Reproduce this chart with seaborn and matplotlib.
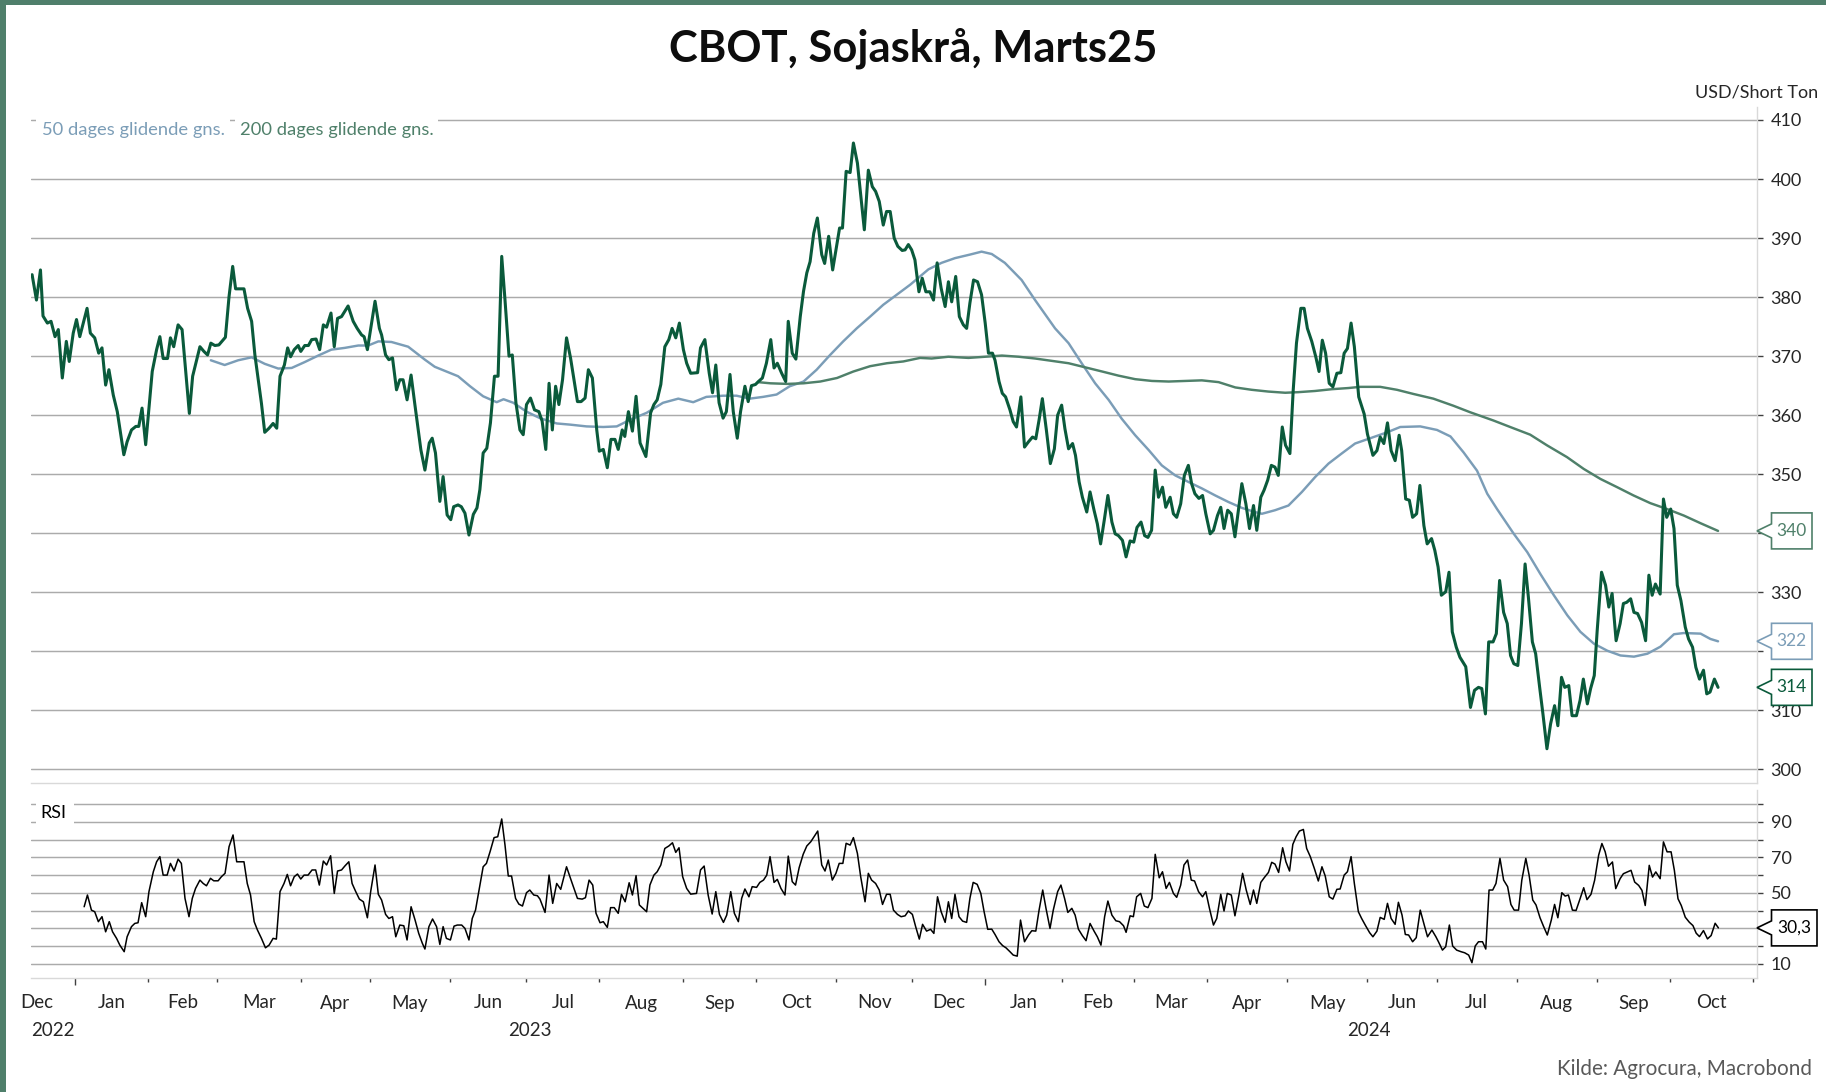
import numpy as np
import pandas as pd
import matplotlib
matplotlib.use("Agg")
import matplotlib.pyplot as plt
import seaborn as sns
from matplotlib.patches import Polygon, Rectangle
from matplotlib.transforms import blended_transform_factory

# ---------------- data ----------------
# x = trading day number counted from 2023-01-03 (CBOT trading calendar)
price_day = [-12.3,-11.1,-10.0,-9.3,-8.1,-7.1,-6.0,-5.1,-4.0,-2.9,-2.1,-1.0,-0.1,0.8,2.8,3.7,4.9,6.0,6.9,7.9,8.8,10.0,11.1,12.9,13.8,15.0,16.2,17.0,17.9,18.9,20.7,21.9,22.8,23.7,24.9,25.7,26.6,27.8,28.9,30.9,31.8,33.8,34.9,35.9,36.8,37.9,39.0,40.8,41.8,42.8,43.6,45.9,46.9,48.0,48.9,50.7,51.6,52.8,53.9,54.9,55.8,57.0,57.9,58.7,59.7,60.8,61.5,62.6,63.6,64.5,65.7,66.7,67.7,68.6,69.8,70.7,71.6,72.7,74.5,75.9,77.0,78.2,78.9,79.8,81.9,83.1,83.7,84.8,85.7,86.7,87.8,88.7,89.6,90.7,91.8,92.8,94.5,95.6,96.8,97.6,98.5,99.7,100.6,101.7,102.7,103.5,104.7,105.6,106.6,107.7,
             108.9,109.9,110.7,111.6,112.6,113.6,114.7,115.7,116.7,117.6,118.7,119.6,120.6,121.7,122.6,123.5,124.6,125.7,126.9,127.8,128.8,129.7,130.6,131.5,132.4,133.4,134.5,135.6,137.5,138.5,139.6,140.5,141.6,142.8,143.5,144.6,145.7,146.7,147.8,148.7,149.8,150.5,151.5,152.6,153.6,154.7,156.3,157.6,158.5,159.4,160.4,161.5,162.6,163.5,164.5,165.5,166.6,167.5,168.6,170.5,171.3,172.5,173.7,174.6,175.5,176.4,177.5,178.4,179.4,180.3,181.4,182.3,183.5,184.4,185.3,186.4,187.2,188.3,189.4,190.6,191.5,192.4,193.6,194.7,195.4,196.5,197.5,198.7,199.6,200.5,201.4,202.4,203.4,204.6,205.4,206.5,207.6,208.5,209.5,210.3,211.3,212.4,213.3,214.4,216.3,217.4,218.5,219.4,220.4,221.5,222.4,223.4,224.5,225.5,226.7,227.5,228.4,229.3,
             230.2,231.3,232.2,233.2,234.3,235.3,236.3,237.4,238.5,239.4,240.3,241.4,242.4,243.5,244.4,245.3,246.3,247.4,248.5,249.5,250.4,251.5,252.2,253.3,254.2,255.1,256.3,257.2,258.1,259.3,260.3,261.4,262.5,263.4,264.3,265.2,266.3,267.4,268.5,269.4,270.5,271.4,272.4,273.5,274.3,275.3,276.2,277.4,278.3,279.4,280.3,281.2,282.2,283.2,284.3,285.2,286.1,287.2,288.2,289.3,290.3,291.2,292.3,293.3,294.2,295.2,296.2,297.1,298.2,299.1,300.3,301.2,302.1,303.2,304.2,305.3,306.2,307.1,308.2,309.2,310.1,311.3,312.2,313.3,314.2,315.1,316.1,317.1,318.1,319.1,320.0,321.1,322.1,323.2,324.1,325.2,326.1,327.1,328.1,329.1,330.0,331.1,332.0,333.2,334.1,335.0,336.2,337.1,338.0,339.2,340.3,341.2,342.1,343.0,344.0,345.0,346.1,347.2,348.1,349.0,350.0,350.9,352.1,
             353.6,354.5,356.0,357.1,358.0,359.0,360.0,361.0,362.1,363.2,363.9,365.0,366.0,366.9,368.0,368.9,370.0,370.9,372.1,373.0,373.9,374.8,376.0,376.9,377.8,378.9,379.9,381.5,382.8,383.9,385.0,385.9,386.9,387.8,389.0,389.9,390.8,391.9,392.9,393.8,394.7,395.8,396.8,397.8,398.7,399.8,400.7,401.8,402.7,403.8,404.8,405.9,406.8,407.8,408.7,409.8,410.7,411.9,412.9,413.8,414.9,415.8,416.8,417.6,418.8,419.9,420.8,421.7,422.8,423.9,424.8,425.7,426.8,427.7,428.7,429.8,430.9,431.8,432.7,433.6,434.9,435.8,436.7,437.8,438.7,439.6,440.6,441.8,442.7,443.8,444.7,445.7,446.8,447.7,448.6,449.8,450.8]
price = [383.8,379.5,384.6,376.8,375.6,375.9,373.3,374.5,366.3,372.5,369.1,373.9,376.2,373.3,378.1,373.9,373.1,370.5,371.4,365.1,367.7,363.4,360.6,353.3,355.5,357.5,358.1,358.1,361.2,355.0,367.4,371.1,373.3,369.6,369.6,373.1,371.6,375.3,374.5,360.3,366.6,371.6,370.8,370.2,372.2,371.8,371.9,373.2,380.1,385.2,381.4,381.4,378.1,375.9,370.2,362.0,357.1,357.8,358.6,357.8,366.6,368.5,371.4,369.9,371.1,371.8,370.8,371.8,371.8,372.8,372.9,371.1,375.3,374.9,377.3,371.6,376.4,376.7,378.5,375.9,374.7,373.6,373.3,371.1,379.3,374.7,373.6,370.2,369.4,369.7,364.3,366.0,366.0,362.6,366.8,362.0,354.1,350.7,355.3,356.1,353.6,345.4,349.6,343.1,342.3,344.5,344.8,344.5,343.4,339.7,
         343.2,344.3,347.4,353.6,354.4,358.7,366.6,366.6,386.9,379.5,370.0,370.2,362.1,357.5,356.7,361.8,362.9,360.9,360.6,359.0,354.2,365.4,357.5,364.9,361.8,366.0,373.1,369.7,362.3,362.3,362.9,367.7,366.3,357.5,353.9,354.2,351.1,355.9,355.9,354.2,357.5,356.4,360.6,357.3,363.2,355.3,353.0,360.4,361.8,362.6,365.2,371.6,372.8,374.7,373.1,375.6,371.1,368.8,367.1,367.2,371.4,372.8,367.1,363.8,368.5,362.1,359.5,360.6,366.9,360.6,356.1,360.6,364.9,362.3,365.0,365.2,365.7,366.3,368.8,372.8,368.0,368.8,367.1,365.7,375.9,370.5,369.5,376.7,381.0,384.1,386.0,390.8,393.4,387.2,385.7,390.3,384.6,388.0,391.7,391.7,401.3,401.1,406.1,402.7,391.4,401.5,398.7,397.9,396.2,392.2,394.5,394.5,390.0,388.6,387.9,388.0,388.9,388.0,
         386.3,380.9,383.2,380.9,380.9,379.5,385.8,381.5,378.4,382.6,379.2,383.5,376.7,375.3,374.7,379.0,382.9,382.6,380.4,375.6,370.5,370.5,369.3,365.7,363.7,363.1,360.9,358.9,358.0,363.1,354.6,355.5,356.3,356.0,359.2,362.8,357.5,351.8,354.3,360.0,361.7,357.7,354.3,355.2,353.2,348.7,346.1,343.6,347.0,343.9,341.6,338.2,342.2,346.4,341.9,339.9,339.6,338.8,336.0,338.7,338.5,341.0,341.9,339.6,339.3,340.5,350.7,346.1,347.8,344.4,346.1,343.3,342.7,345.0,349.8,351.5,348.4,346.7,345.9,346.4,343.3,339.9,340.5,343.0,344.4,340.8,343.9,343.3,339.4,344.2,348.4,345.0,340.8,344.7,340.5,346.1,347.3,349.0,351.5,351.2,349.8,358.0,354.9,353.5,364.2,372.2,378.1,378.1,374.7,372.5,369.9,367.4,372.7,370.5,365.4,364.8,367.1,367.2,370.5,371.3,375.6,371.6,363.1,
         360.2,356.8,353.2,354.0,356.3,355.2,358.7,354.0,352.3,356.6,354.0,345.8,345.6,342.7,343.3,348.1,341.3,338.2,339.1,337.1,334.3,329.5,330.1,333.4,323.3,320.7,319.0,317.4,310.5,313.4,313.9,313.7,309.4,321.6,321.6,323.0,332.0,326.6,324.7,319.3,317.9,317.6,324.7,334.8,329.2,321.6,319.6,313.9,309.4,303.5,307.7,310.8,307.4,315.6,313.9,314.2,309.1,309.1,311.7,315.3,311.1,313.7,315.9,323.5,333.4,331.2,327.5,329.8,321.8,324.7,328.1,328.3,328.9,326.6,326.4,324.9,321.8,332.9,329.5,331.4,329.7,345.8,342.7,344.1,340.8,331.2,328.6,324.1,322.1,320.7,317.3,315.3,316.8,312.8,313.1,315.3,313.9]

ma50_day = [36.8,40.6,44.3,48.0,51.6,55.3,59.0,62.6,66.3,69.9,73.6,77.3,80.0,82.8,86.4,91.0,95.6,98.3,104.7,108.0,111.6,115.3,117.2,119.9,123.5,127.2,131.8,135.5,140.0,144.6,148.3,151.9,156.5,161.0,165.2,169.3,172.9,177.5,181.2,184.8,188.5,192.2,195.8,199.6,203.2,206.9,210.5,214.2,217.9,221.5,225.2,228.9,233.9,237.5,241.2,245.3,248.5,251.3,254.9,259.5,263.2,268.7,272.4,276.0,279.7,283.4,287.0,290.7,294.4,298.0,301.7,305.3,309.0,312.7,316.3,320.0,323.6,325.5,329.1,332.8,336.5,340.1,343.8,347.4,351.1,356.2,359.9,363.5,369.0,373.6,377.3,380.9,384.6,387.4,390.1,394.7,398.4,402.0,405.7,409.4,413.0,416.7,420.4,424.0,427.7,431.4,435.0,438.7,441.4,446.0,448.7,450.8]
ma50 = [369.3,368.5,369.3,369.8,368.7,367.9,368.0,369.0,370.1,371.1,371.4,371.8,371.8,372.5,372.4,371.6,369.4,368.2,366.6,364.9,363.2,362.2,362.7,362.1,360.6,359.5,358.6,358.4,358.1,358.0,358.1,359.2,360.4,362.1,362.8,362.2,363.1,363.3,363.3,362.8,363.1,363.5,364.9,365.7,367.7,370.2,372.5,374.7,376.7,378.7,380.4,382.1,384.7,385.8,386.6,387.2,387.7,387.3,385.8,382.9,379.5,374.7,372.2,368.8,365.4,362.6,359.4,356.6,354.1,351.5,349.8,348.7,347.6,346.4,345.3,344.3,343.6,343.3,343.9,344.7,347.0,349.5,351.8,353.5,355.2,356.3,357.1,358.0,358.1,357.5,356.4,353.7,350.6,346.7,344.1,339.9,336.8,333.1,329.5,326.1,323.3,321.3,320.1,319.3,319.1,319.6,320.8,322.9,323.1,323.0,322.1,321.7]

ma200_day = [187.1,190.5,195.1,199.6,204.2,208.8,213.3,217.9,222.5,227.0,231.6,234.8,239.4,244.9,249.5,254.1,258.7,263.2,267.8,272.4,277.0,281.6,286.1,290.7,295.3,299.9,304.5,309.0,313.6,318.2,322.7,327.3,331.9,335.5,340.1,344.7,349.3,352.5,358.0,362.6,367.1,372.6,378.1,382.7,389.1,393.7,399.2,403.8,409.3,413.9,418.5,423.1,427.6,432.2,436.8,441.4,446.0,450.8]
ma200 = [365.6,365.4,365.3,365.4,365.7,366.3,367.4,368.3,368.8,369.1,369.7,369.6,369.9,369.7,369.9,370.1,369.9,369.6,369.2,368.8,368.1,367.4,366.7,366.1,365.8,365.7,365.8,365.9,365.6,364.7,364.3,364.0,363.8,363.9,364.1,364.4,364.6,364.8,364.8,364.3,363.6,362.8,361.6,360.5,359.1,358.0,356.7,354.9,352.9,350.9,349.2,347.8,346.4,345.1,344.1,343.0,341.7,340.4]

rsi_day = [2.0,2.9,4.0,4.9,5.9,6.9,7.9,8.9,9.8,10.9,11.8,13.0,13.8,15.0,15.9,16.8,17.8,18.9,19.8,21.0,21.9,22.8,23.7,24.8,25.7,26.7,27.8,28.7,29.7,30.8,31.7,32.6,33.8,34.7,35.6,36.7,37.6,38.8,39.7,40.7,41.8,42.9,43.9,45.9,46.8,47.7,48.7,49.6,50.7,51.8,52.8,53.9,54.8,55.8,56.9,57.8,58.7,59.7,60.6,61.5,62.4,63.5,64.6,65.6,66.6,67.7,68.6,69.7,70.7,71.6,72.7,73.6,74.7,75.6,76.6,77.6,78.7,79.8,80.7,81.9,82.8,83.7,84.8,85.7,86.7,87.6,88.7,89.8,90.7,91.8,92.9,93.9,94.9,95.6,96.7,97.7,98.8,99.7,100.6,101.5,102.6,103.6,104.5,105.7,106.6,107.7,108.6,109.5,110.4,111.6,112.5,113.5,114.6,115.6,116.7,117.6,118.5,119.4,120.5,121.4,122.4,123.5,124.4,125.5,126.5,
           127.2,128.6,129.7,130.7,131.8,132.9,134.5,135.9,137.5,138.8,139.7,140.7,141.7,142.6,143.7,144.6,145.7,146.6,147.6,148.7,149.6,150.6,151.7,152.6,153.6,154.5,156.5,157.4,158.5,159.4,160.4,161.5,162.6,163.6,164.5,165.4,166.4,167.5,168.6,170.2,171.3,172.3,173.4,174.5,175.5,176.5,177.6,178.5,179.6,180.6,181.7,182.6,183.5,184.6,185.5,186.7,187.6,188.6,189.5,190.4,191.5,192.4,193.4,194.5,195.4,196.5,197.4,198.4,199.5,200.5,201.6,202.5,203.5,204.6,205.5,206.4,207.5,208.5,209.4,210.4,211.3,212.4,213.3,214.4,215.3,216.5,217.4,218.3,219.4,220.4,221.3,222.4,223.4,224.3,225.4,226.4,227.5,228.4,229.5,230.4,231.4,232.3,233.4,234.5,235.4,236.4,237.4,238.5,239.4,240.3,241.2,242.3,243.3,244.4,245.3,246.2,247.3,248.3,249.2,250.2,251.3,252.2,253.3,254.3,255.2,256.3,257.2,258.3,259.2,260.3,261.4,262.3,263.4,264.3,265.3,266.2,267.3,268.2,
           269.4,270.3,271.3,272.2,273.3,274.2,275.1,276.2,277.2,278.3,279.4,280.3,281.3,282.3,283.2,284.3,285.4,286.4,287.5,288.2,289.3,290.2,291.1,292.2,293.2,294.2,295.3,296.2,297.3,298.2,299.2,300.1,301.2,302.1,303.2,304.1,305.1,306.1,307.0,308.1,309.2,310.1,311.1,312.2,313.1,314.2,315.1,316.0,317.1,318.1,319.2,320.2,321.2,322.3,323.2,324.1,325.2,326.2,327.3,328.2,329.1,330.1,331.2,332.1,333.1,334.0,334.9,335.8,336.9,337.8,338.8,339.9,341.0,342.0,342.9,344.0,345.0,346.1,347.0,348.1,349.0,350.0,350.9,352.0,352.9,354.0,355.1,356.0,357.1,358.0,359.1,360.0,361.0,362.1,363.0,364.0,364.9,365.8,366.9,367.9,369.0,370.1,371.0,372.2,373.3,374.0,375.1,376.0,377.0,377.9,379.0,380.2,381.2,382.3,383.2,384.1,385.0,386.1,387.0,387.9,388.9,389.8,390.9,391.9,393.0,393.9,394.8,396.0,396.9,398.0,398.9,399.9,400.8,401.9,402.9,403.9,405.0,405.9,406.8,407.9,408.8,409.7,410.8,
           411.8,412.9,413.9,414.8,415.9,416.9,418.0,418.9,419.8,420.7,421.8,422.7,423.9,424.8,425.9,426.9,427.9,429.0,429.9,430.8,431.9,432.8,433.7,434.9,435.8,436.8,437.9,438.8,439.8,440.7,441.8,442.9,443.9,444.8,445.7,446.8,447.9,448.9,450.0,450.9]
rsi = [42.2,48.8,40.3,39.4,33.8,36.6,28.1,33.8,28.1,24.4,20.6,16.9,25.3,31.0,32.8,33.2,44.5,36.6,50.7,61.9,67.5,70.4,60.0,60.0,66.6,62.3,69.0,66.6,46.9,36.6,46.9,52.5,57.2,55.3,54.0,58.2,56.8,56.8,59.1,61.0,76.0,82.6,67.5,67.5,55.3,48.8,33.8,29.1,24.4,19.1,20.6,24.4,24.0,50.7,55.3,60.4,54.0,59.1,60.6,57.8,60.0,60.0,62.9,62.9,54.4,67.9,65.7,70.9,49.7,62.3,62.9,65.1,67.5,55.3,50.7,46.5,45.0,36.0,50.7,65.7,49.2,46.0,37.9,35.6,36.6,25.3,31.9,31.5,23.5,42.2,34.7,27.2,21.6,18.4,31.0,35.3,31.0,21.0,31.0,24.4,23.5,31.3,31.9,31.9,30.0,23.5,35.6,40.3,50.7,64.7,66.6,73.2,81.1,81.6,91.6,76.9,59.5,59.5,46.9,43.7,42.6,50.1,51.6,48.8,48.4,
       46.5,39.0,60.0,44.1,55.3,52.0,64.7,56.3,46.9,46.5,47.3,57.2,54.4,38.5,33.2,33.8,30.6,41.7,41.7,38.5,49.2,45.0,55.7,48.8,59.7,43.2,39.4,54.4,60.0,61.9,65.7,75.0,76.4,78.2,72.8,75.4,59.1,52.5,49.3,49.7,62.9,65.1,48.8,38.1,50.7,37.9,33.4,37.5,50.7,38.5,33.8,46.9,52.2,47.8,53.5,53.1,55.9,57.2,60.0,70.4,55.9,57.6,52.5,48.8,70.7,56.3,54.4,64.2,71.7,76.4,78.8,81.6,84.8,65.7,62.3,68.5,57.2,61.0,66.6,66.6,77.9,76.9,81.1,72.2,59.1,45.0,61.0,57.2,55.3,51.6,43.5,49.2,49.2,40.3,37.9,36.6,37.1,39.8,37.9,31.0,24.0,32.3,28.5,29.5,27.2,47.8,39.4,33.4,45.0,35.6,49.2,36.6,34.1,33.4,46.9,55.9,54.8,49.7,39.4,29.5,29.6,26.6,22.5,20.3,19.1,16.9,15.0,14.4,34.7,22.5,26.3,28.7,28.5,40.3,51.6,41.3,30.0,40.3,
       50.7,54.4,46.9,39.0,41.3,37.5,29.6,25.9,23.1,32.8,28.5,25.3,20.6,36.6,45.4,37.5,34.3,33.8,31.5,27.8,37.1,36.6,47.8,49.7,42.6,41.7,46.9,71.7,58.5,61.9,52.5,55.9,49.7,47.5,54.4,65.7,68.5,57.2,56.7,50.7,47.8,50.7,41.3,31.9,35.6,49.2,39.8,49.7,48.8,37.1,48.8,61.0,51.6,43.5,51.6,44.1,55.9,58.7,61.5,67.2,66.2,61.5,75.4,67.5,62.3,77.3,81.6,84.8,85.7,75.0,70.4,63.8,56.7,64.7,59.5,47.8,46.5,52.0,52.2,60.0,61.9,70.4,55.3,39.4,35.6,31.5,27.6,25.3,28.5,36.2,35.1,44.1,35.6,32.3,44.7,37.5,26.6,26.3,22.5,24.8,40.3,31.9,25.3,29.1,25.3,22.5,17.8,19.7,31.9,20.1,17.8,16.9,16.3,15.0,10.7,20.1,22.5,22.5,18.4,51.6,51.6,55.3,69.4,57.2,53.5,43.5,40.3,40.3,57.2,69.4,60.0,46.0,43.2,36.0,31.0,26.3,34.7,43.5,36.0,50.1,48.2,48.8,40.3,
       40.1,46.7,52.9,46.2,49.2,57.1,71.2,77.8,73.1,65.0,67.4,52.4,58.0,60.8,61.8,62.7,56.1,54.2,51.4,42.9,65.5,58.9,61.8,58.0,78.7,73.1,73.1,62.7,46.7,42.9,36.3,33.5,31.6,27.3,25.4,28.8,24.1,26.0,32.9,30.3]

title = "CBOT, Sojaskrå, Marts25"
unit_label = "USD/Short Ton"
legend_labels = ["50 dages glidende gns.", "200 dages glidende gns."]
source = "Kilde: Agrocura, Macrobond"
price_ticks = list(range(300, 411, 10))
price_tick_hidden = [320, 340]          # covered by the value tags in the reference
rsi_ticks = list(range(10, 101, 10))
rsi_tick_labels = [10, 50, 70, 90]      # 30 is covered by the RSI value tag
cbot_holidays = ["2022-12-26", "2023-01-02", "2023-01-16", "2023-02-20", "2023-04-07",
                 "2023-05-29", "2023-06-19", "2023-07-04", "2023-09-04", "2023-11-23",
                 "2023-12-25", "2024-01-01", "2024-01-15", "2024-02-19", "2024-03-29",
                 "2024-05-27", "2024-06-19", "2024-07-04", "2024-09-02"]

# ---------------- styling ----------------
C_PRICE = "#0a5a3b"
C_MA50 = "#7b9db7"
C_MA200 = "#4f806a"
C_GRID = "#ababab"
C_FRAME = "#4f7f6b"
C_TEXT = "#262626"

sns.set_theme(style="white")
plt.rcParams["font.family"] = ["Lato", "DejaVu Sans"]

W, H = 1826, 1092
fig = plt.figure(figsize=(W / 100, H / 100), dpi=100)
fig.patch.set_facecolor("white")


def fx(x):
    return x / W


def fy(y):
    return 1 - y / H


def px_axes(l, t, r, b):
    return [l / W, 1 - b / H, (r - l) / W, (b - t) / H]


ax1 = fig.add_axes(px_axes(31, 107, 1757, 783))
ax2 = fig.add_axes(px_axes(31, 790, 1757, 978))

# trading calendar -> month boundaries
days = pd.bdate_range("2022-12-01", "2024-10-31")
days = days[~days.isin(pd.to_datetime(cbot_holidays))]
t0 = days.get_loc(pd.Timestamp("2023-01-03"))
tidx = np.arange(len(days)) - t0
cal = pd.DataFrame({"date": days, "t": tidx})
cal["ym"] = cal["date"].dt.to_period("M")
months = cal.groupby("ym")["t"].agg(["min", "max"])
month_bounds = [m - 0.5 for m in months["min"].values[1:]] + [months["max"].values[-1] + 0.5]
month_centers = ((months["min"] + months["max"]) / 2.0).values
month_names = [p.strftime("%b") for p in months.index]
cal["year"] = cal["date"].dt.year
years = cal.groupby("year")["t"].agg(["min", "max"])
year_bounds = [years.loc[y, "min"] - 0.5 for y in years.index[1:]]

XL = (-12.6, 461.5)

df_p = pd.DataFrame({"day": price_day, "v": price})
df_50 = pd.DataFrame({"day": ma50_day, "v": ma50})
df_200 = pd.DataFrame({"day": ma200_day, "v": ma200})
df_r = pd.DataFrame({"day": rsi_day, "v": rsi})

sns.lineplot(data=df_50, x="day", y="v", ax=ax1, color=C_MA50, linewidth=1.75,
             estimator=None, sort=False, legend=False, zorder=3)
sns.lineplot(data=df_200, x="day", y="v", ax=ax1, color=C_MA200, linewidth=1.75,
             estimator=None, sort=False, legend=False, zorder=3)
sns.lineplot(data=df_p, x="day", y="v", ax=ax1, color=C_PRICE, linewidth=2.2,
             estimator=None, sort=False, legend=False, zorder=4)
sns.lineplot(data=df_r, x="day", y="v", ax=ax2, color="black", linewidth=1.1,
             estimator=None, sort=False, legend=False, zorder=3)

for ax in (ax1, ax2):
    ax.set_xlim(*XL)
    ax.set_xlabel("")
    ax.set_ylabel("")
    ax.set_facecolor("white")
    ax.yaxis.tick_right()
    ax.grid(False)
    ax.yaxis.grid(True, color=C_GRID, linewidth=1.05)
    ax.set_axisbelow(True)
    for s in ("left", "top"):
        ax.spines[s].set_visible(False)
    ax.spines["right"].set_color("#d9d9d9")
    ax.spines["bottom"].set_color("#d9d9d9")
    ax.spines["right"].set_linewidth(1.0)
    ax.spines["bottom"].set_linewidth(1.0)
    ax.tick_params(axis="y", which="both", direction="out", length=4.3, width=1.0,
                   color="#404040", labelsize=13, labelcolor=C_TEXT, pad=5.5,
                   left=False, right=True)

ax1.set_ylim(297.7, 412.2)
ax1.set_yticks(price_ticks)
ax1.set_yticklabels(["" if v in price_tick_hidden else str(v) for v in price_ticks])
ax1.set_xticks([])

ax2.set_ylim(2.1, 107.9)
ax2.set_yticks(rsi_ticks)
ax2.set_yticklabels([str(v) if v in rsi_tick_labels else "" for v in rsi_ticks])
ax2.set_xticks(year_bounds)
ax2.set_xticks(month_bounds, minor=True)
ax2.set_xticklabels([])
ax2.tick_params(axis="x", which="major", direction="out", length=5.3, width=1.0, color="#404040", bottom=True)
ax2.tick_params(axis="x", which="minor", direction="out", length=3.0, width=1.0, color="#404040", bottom=True)

# month and year labels
btrans = blended_transform_factory(ax2.transData, ax2.transAxes)
ax_h = 978 - 790
for c, name in zip(month_centers, month_names):
    ax2.text(c, -(1003 - 978) / ax_h, name, transform=btrans, ha="center", va="center",
             fontsize=13.5, color=C_TEXT, clip_on=False)
for y in years.index:
    lo = max(years.loc[y, "min"] - 0.5, XL[0])
    hi = min(years.loc[y, "max"] + 0.5, XL[1])
    ax2.text((lo + hi) / 2, -(1031 - 978) / ax_h, str(y), transform=btrans, ha="center",
             va="center", fontsize=13.5, color=C_TEXT, clip_on=False)

# title, unit, source
fig.text(fx(913), fy(48), title, ha="center", va="center", fontsize=31.3, fontweight="bold", color="#0d0d0d")
fig.text(fx(1818), fy(92), unit_label, ha="right", va="center", fontsize=13, color=C_TEXT)
fig.text(fx(1812), fy(1069), source, ha="right", va="center", fontsize=14.9, color="#595959")

# legend (white box over the top grid line)
fig.add_artist(Rectangle((fx(36), fy(142)), (230 - 36) / W, 24 / H, transform=fig.transFigure,
                         facecolor="white", edgecolor="none", zorder=5))
fig.add_artist(Rectangle((fx(235), fy(142)), (438 - 235) / W, 24 / H, transform=fig.transFigure,
                         facecolor="white", edgecolor="none", zorder=5))
fig.text(fx(42), fy(130), legend_labels[0], ha="left", va="center", fontsize=13.2, color=C_MA50, zorder=6)
fig.text(fx(240), fy(130), legend_labels[1], ha="left", va="center", fontsize=13.2, color=C_MA200, zorder=6)

# RSI label
fig.add_artist(Rectangle((fx(36), fy(826)), (74 - 36) / W, 26 / H, transform=fig.transFigure,
                         facecolor="white", edgecolor="none", zorder=5))
fig.text(fx(53), fy(813), "RSI", ha="center", va="center", fontsize=13, color="black", zorder=6)


# value tags on the right axis
def tag(ax, value, text, color, right=1812):
    yd = ax.transData.transform((0, value))[1]
    yc = H - yd
    xt, xb = 1757, 1771.5
    pts = [(xt, yc), (xb, yc - 7), (xb, yc - 18), (right, yc - 18), (right, yc + 18),
           (xb, yc + 18), (xb, yc + 7)]
    poly = Polygon([(fx(x), fy(y)) for x, y in pts], closed=True, transform=fig.transFigure,
                   facecolor="white", edgecolor=color, linewidth=1.2, zorder=7)
    fig.add_artist(poly)
    fig.text(fx((xb + right) / 2), fy(yc), text, ha="center", va="center", fontsize=12.5,
             color=color, zorder=8)


tag(ax1, ma200[-1], f"{ma200[-1]:.0f}", C_MA200)
tag(ax1, ma50[-1], f"{ma50[-1]:.0f}", C_MA50)
tag(ax1, price[-1], f"{price[-1]:.0f}", C_PRICE)
tag(ax2, rsi[-1], f"{rsi[-1]:.1f}".replace(".", ","), "black", right=1817)

# green frame on left and top
fig.add_artist(Rectangle((0, 0), 6 / W, 1, transform=fig.transFigure, facecolor=C_FRAME,
                         edgecolor="none", zorder=10))
fig.add_artist(Rectangle((0, fy(5)), 1, 5 / H, transform=fig.transFigure, facecolor=C_FRAME,
                         edgecolor="none", zorder=10))

fig.savefig("out.png", dpi=100, facecolor="white")
